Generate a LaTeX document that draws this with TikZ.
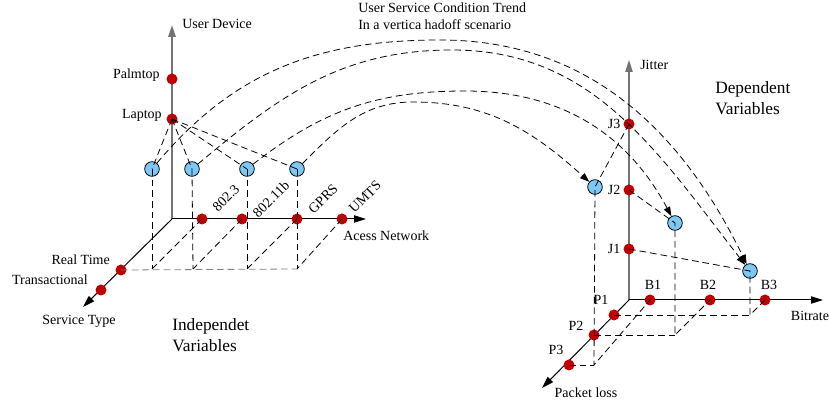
\documentclass[tikz,border=0pt]{standalone}
\usepackage{fontspec}
\setmainfont{Liberation Serif}
\usetikzlibrary{arrows.meta}
\usetikzlibrary{positioning}

\definecolor{dotred}{RGB}{192,0,0}
\definecolor{dotblue}{RGB}{125,200,245}
\definecolor{axisgray}{RGB}{115,115,115}

\tikzset{
    reddot/.style={circle,fill=dotred,inner sep=0pt,minimum size=8.25pt},
    bluedot/.style={circle,draw=black,line width=.6pt,fill=dotblue,inner sep=0pt,minimum size=11pt},
    lbl/.style={inner sep=0pt,font=\fontsize{10.5}{12.75}\selectfont},
    biglbl/.style={inner sep=0pt,align=left,font=\fontsize{13}{15.5}\selectfont},
    guide/.style={dash pattern=on 5pt off 3pt,line width=.6pt},
    trend/.style={guide,-{Triangle[length=7pt,width=5pt]}},
    axis/.style={line width=.75pt,-{Triangle[length=9pt,width=5.5pt]}}
}

\begin{document}
\begin{tikzpicture}[x=0.75pt,y=-0.75pt]
    \useasboundingbox (0,0) rectangle (829,402);

    % independent variables
    \coordinate (o1) at (172,219);
    \draw[axis,line width=1.5pt,axisgray] (o1) -- (172,25) coordinate (devtip);
    \draw[axis] (o1) -- (366,219) coordinate (nettip);
    \draw[axis] (o1) -- (83,307) coordinate (svctip);

    \node[reddot] (palm) at (172,79) {};
    \node[reddot] (lap) at (172,119) {};
    \node[reddot] (n1) at (202,219) {};
    \node[reddot] (n2) at (242,219) {};
    \node[reddot] (n3) at (297,219) {};
    \node[reddot] (n4) at (342,219) {};
    \node[reddot] (rt) at (121,270) {};
    \node[reddot] (tr) at (101,290) {};

    \node[bluedot] (ul1) at (152,169) {};
    \node[bluedot] (ul2) at (192,169) {};
    \node[bluedot] (ul3) at (247,169) {};
    \node[bluedot] (ul4) at (297,169) {};
    \coordinate (f1) at (152,269);
    \coordinate (f2) at (193,269);
    \coordinate (f3) at (247,269);
    \coordinate (f4) at (297,269);

    \foreach \i in {1,...,4} {
        \draw[guide] (lap.center) -- (ul\i.center);
        \draw[guide] (ul\i.center) -- (f\i);
        \draw[guide] (n\i.center) -- (f\i);
    }
    \draw[guide,gray] (rt.center) -- (f4);

    \node[lbl,anchor=west] at (182,24) {User Device};
    \node[lbl,anchor=east] at (160,75) {Palmtop};
    \node[lbl,anchor=east] at (162,115) {Laptop};
    \node[lbl,rotate=45] at (226,198) {802.3};
    \node[lbl,rotate=45] at (271,199) {802.11b};
    \node[lbl,rotate=45] at (323,199) {GPRS};
    \node[lbl,rotate=45] at (365,197) {UMTS};
    \node[lbl,anchor=west] at (343,236) {Acess Network};
    \node[lbl,anchor=east] at (110,260) {Real Time};
    \node[lbl,anchor=east] at (88,280) {Transactional};
    \node[lbl] at (79,321) {Service Type};
    \node[biglbl,anchor=west] at (172,335) {Independet\\Variables};

    % dependent variables
    \coordinate (o2) at (629,300);
    \draw[axis,line width=1.1pt,axisgray] (o2) -- (629,60) coordinate (jittip);
    \draw[axis] (o2) -- (823,300) coordinate (bittip);
    \draw[axis] (o2) -- (542,388) coordinate (losstip);

    \node[reddot] (j3) at (629,124) {};
    \node[reddot] (j2) at (629,190) {};
    \node[reddot] (j1) at (629,249) {};
    \node[reddot] (b1) at (650,300) {};
    \node[reddot] (b2) at (710,300) {};
    \node[reddot] (b3) at (765,300) {};
    \node[reddot] (p1) at (614,315) {};
    \node[reddot] (p2) at (594,335) {};
    \node[reddot] (p3) at (569,365) {};

    \node[bluedot] (dr1) at (595,187) {};
    \node[bluedot] (dr2) at (675,223) {};
    \node[bluedot] (dr3) at (750,271) {};
    \coordinate (g1) at (594,365);
    \coordinate (g2) at (675,335);
    \coordinate (g3) at (750,315);

    \draw[guide] (j3.center) -- (dr1.center) -- (g1) -- (b1.center);
    \draw[guide] (j2.center) -- (dr2.center) -- (g2) -- (b2.center);
    \draw[guide] (j1.center) -- (dr3.center) -- (g3) -- (b3.center);
    \draw[guide] (p3.center) -- (g1);
    \draw[guide] (p2.center) -- (g2);
    \draw[guide] (p1.center) -- (g3);

    \node[lbl,anchor=west] at (640,65) {Jitter};
    \node[lbl,left=2pt of j3] {J3};
    \node[lbl,left=2pt of j2] {J2};
    \node[lbl,left=2pt of j1] {J1};
    \node[lbl] at (653,285) {B1};
    \node[lbl] at (708,285) {B2};
    \node[lbl] at (769,285) {B3};
    \node[lbl] at (810,316) {Bitrate};
    \node[lbl] at (601,300) {P1};
    \node[lbl] at (576,326) {P2};
    \node[lbl] at (556,350) {P3};
    \node[lbl] at (586,393) {Packet loss};
    \node[biglbl,anchor=west] at (715,98) {Dependent\\Variables};

    % trend curves
    \coordinate (top1) at (440,40);
    \coordinate (top2) at (452,50);
    \coordinate (top3) at (465,91);
    \coordinate (top4) at (413,102);
    \draw[trend] (ul1) to[out=50,in=180] (top1) to[out=0,in=116] (dr3);
    \draw[trend] (ul2) to[out=40,in=180] (top2) to[out=0,in=128] (dr3);
    \draw[trend] (ul3) to[out=38,in=180] (top3) to[out=0,in=118] (dr2);
    \draw[trend] (ul4) to[out=45,in=180] (top4) to[out=0,in=138] (dr1);

    \node[lbl,anchor=west,align=left] at (358,16) {User Service Condition Trend\\In a vertica hadoff scenario};
\end{tikzpicture}
\end{document}
